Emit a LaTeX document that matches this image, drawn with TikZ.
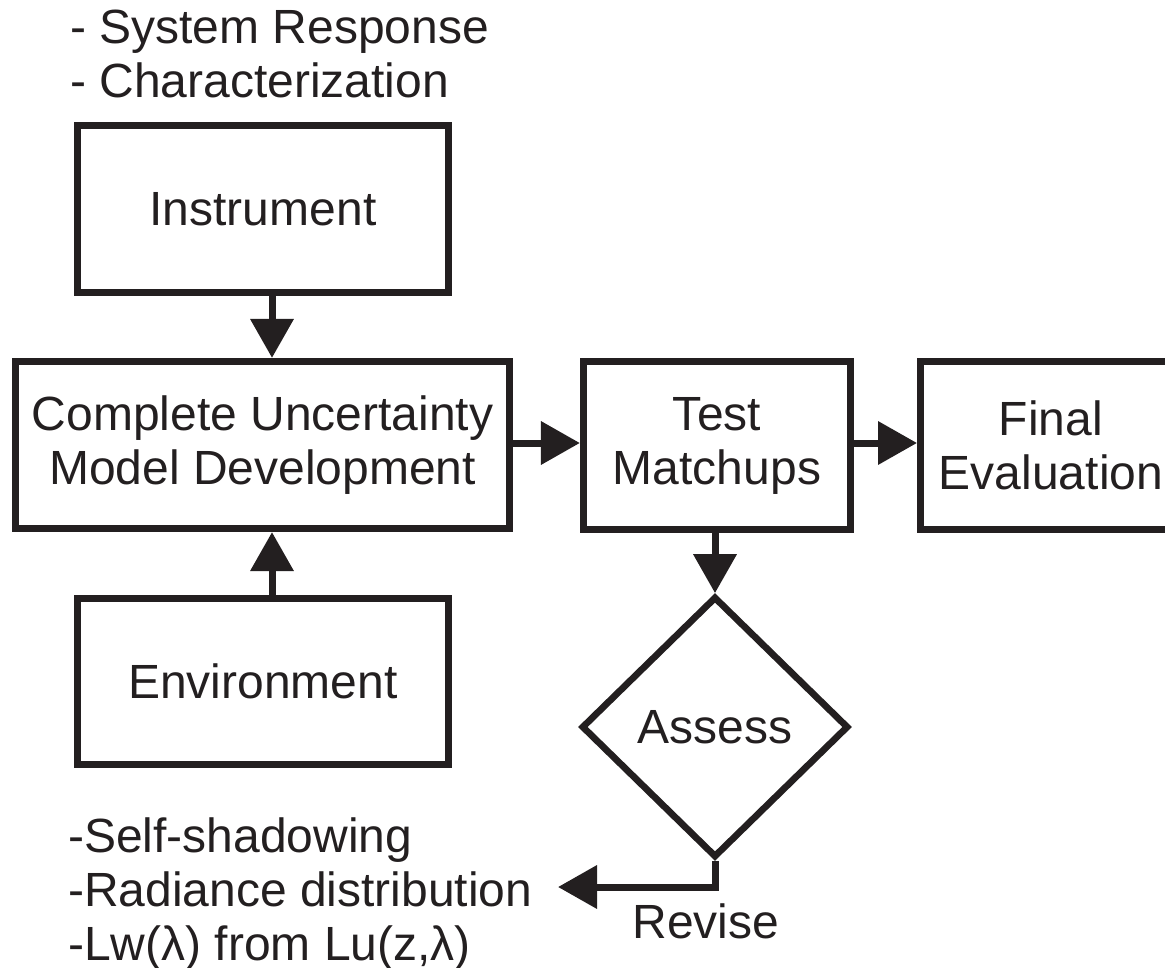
\documentclass[tikz,border=0pt]{standalone}
\usepackage{fontspec}
\setmainfont{Liberation Sans}
\usetikzlibrary{arrows.meta,shapes.geometric}
\definecolor{ink}{RGB}{35,31,32}
\newcommand\figfont{\fontsize{48}{54}\selectfont}
\begin{document}
\begin{tikzpicture}[x=1pt,y=-1pt,
  box/.style={draw=ink, line width=6.7pt, inner sep=0pt, align=center, font=\figfont, text=ink},
  dec/.style={draw=ink, line width=6.7pt, diamond, aspect=1, inner sep=0pt, font=\figfont, text=ink},
  arr/.style={draw=ink, line width=7pt, -{Triangle[length=39pt,width=42pt]}},
  lbl/.style={inner sep=0pt, text=ink, font=\figfont, align=left}]
\useasboundingbox (0,0) rectangle (1165,968);
% boxes
\node[box, minimum width=371.5pt, minimum height=167.5pt] (inst) at (263,209) {Instrument};
\node[box, minimum width=494.5pt, minimum height=167.5pt] (cmp) at (262.5,445) {Complete Uncertainty\\Model Development};
\node[box, minimum width=371.5pt, minimum height=166.5pt] (env) at (263,681.5) {Environment};
\node[box, minimum width=267.5pt, minimum height=168pt] (test) at (717,445.5) {Test\\Matchups};
\node[box, minimum width=261.3pt, minimum height=168pt] (final) at (1051,445.5) {Final\\Evaluation};
\node[dec, minimum width=267pt, minimum height=261pt] (assess) at (715,727) {Assess};
% labels (base anchor = baseline of the last line)
\node[lbl, anchor=base west] (instnotes) at (70,98) {- System Response\\- Characterization};
\node[lbl, anchor=base west] (envnotes) at (68,960) {-Self-shadowing\\-Radiance distribution\\-Lw(λ) from Lu(z,λ)};
\node[lbl, anchor=base] (revise) at (706,938) {Revise};
\coordinate (revtip) at (558,887);
% connectors
\draw[arr] ([xshift=9pt]inst.south) -- ([xshift=9.5pt]cmp.north);
\draw[arr] ([xshift=9pt]env.north) -- ([xshift=9.5pt]cmp.south);
\draw[arr] (cmp.east |- 0,443) -- (test.west |- 0,443);
\draw[arr] (test.east |- 0,443) -- (final.west |- 0,443);
\draw[arr] ([xshift=-2pt]test.south) -- (assess.north);
\draw[arr] (assess.south) |- (revtip);
\end{tikzpicture}
\end{document}
